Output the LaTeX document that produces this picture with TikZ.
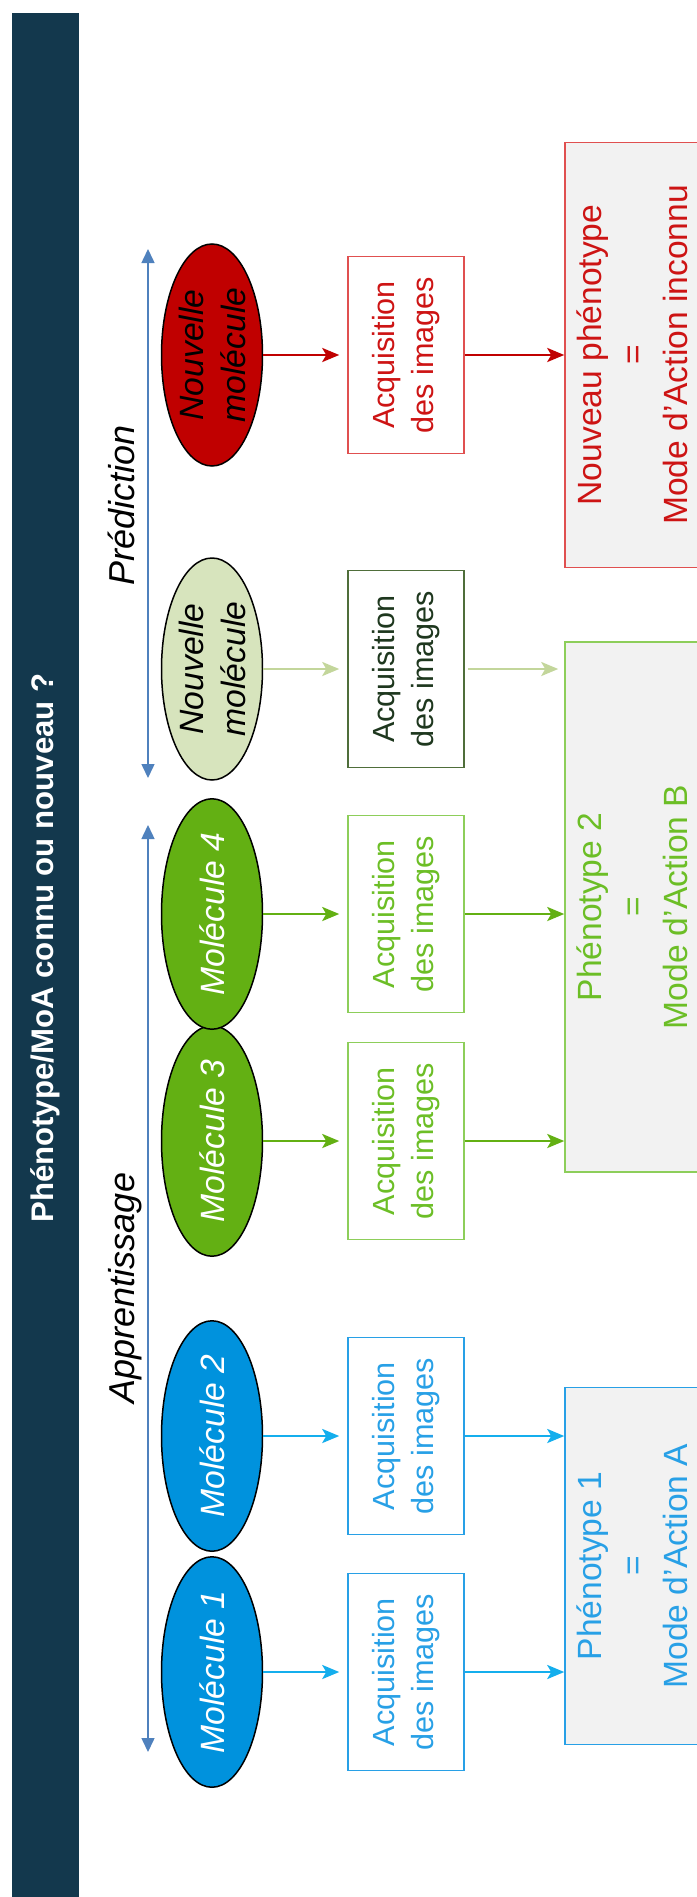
\documentclass[tikz,border=0pt]{standalone}
\usepackage{fontspec}
\setmainfont{Liberation Sans}
\usepackage{tikz}
\usetikzlibrary{arrows.meta,shapes.geometric}
\definecolor{titlebg}{RGB}{19,56,77}
\definecolor{axisblue}{RGB}{79,129,189}
\definecolor{molblue}{RGB}{0,146,221}
\definecolor{lineblue}{RGB}{20,174,237}
\definecolor{boxblue}{RGB}{40,160,230}
\definecolor{molgreen}{RGB}{99,176,19}
\definecolor{boxgreen}{RGB}{141,206,90}
\definecolor{txtgreen}{RGB}{108,190,38}
\definecolor{newfill}{RGB}{215,228,189}
\definecolor{newline}{RGB}{195,214,155}
\definecolor{newbox}{RGB}{79,110,58}
\definecolor{newtext}{RGB}{30,55,30}
\definecolor{molred}{RGB}{192,0,0}
\definecolor{boxred}{RGB}{224,80,80}
\definecolor{txtred}{RGB}{205,20,20}
\definecolor{resfill}{RGB}{242,242,242}
\tikzset{
  molnode/.style = {ellipse, rotate=90, draw=black, line width=1.5pt, inner sep=0pt,
    minimum width=222pt, minimum height=101pt, align=center,
    font=\fontsize{33.7}{42}\selectfont\itshape},
  mol_b/.style = {molnode, fill=molblue, text=white},% molecule connue, bleu
  mol_v/.style = {molnode, fill=molgreen, text=white},% molecule connue, vert
  mol_c/.style = {molnode, fill=newfill, text=black},% nouvelle molecule, vert clair
  mol_r/.style = {molnode, fill=molred, text=black},% nouvelle molecule, rouge
  acqnode/.style = {rectangle, rotate=90, line width=1.5pt, inner sep=0pt,
    minimum width=197pt, minimum height=116pt, align=center,
    font=\fontsize{30.6}{39}\selectfont},
  acq_b/.style = {acqnode, draw=boxblue, text=boxblue},
  acq_v/.style = {acqnode, draw=boxgreen, text=txtgreen},
  acq_c/.style = {acqnode, draw=newbox, text=newtext},
  acq_r/.style = {acqnode, draw=boxred, text=txtred},
  resnode/.style = {rectangle, rotate=90, fill=resfill, line width=1.5pt, inner sep=0pt,
    minimum height=134pt, align=center, font=\fontsize{33.6}{43}\selectfont},
  res_b/.style = {resnode, draw=boxblue, text=boxblue},
  res_v/.style = {resnode, draw=boxgreen, text=txtgreen},
  res_r/.style = {resnode, draw=boxred, text=txtred},
  fl/.style = {->, line width=2.7pt},
  fl_b/.style = {fl, lineblue},
  fl_v/.style = {fl, molgreen},
  fl_c/.style = {fl, newline},
  fl_r/.style = {fl, molred},
  axe/.style = {axisblue, line width=1.5pt,
    {Triangle[length=14pt,width=13pt]}-{Triangle[length=14pt,width=13pt]}},
  etiq/.style = {rotate=90, anchor=base, inner sep=0pt,
    font=\fontsize{36}{40}\selectfont\itshape},
  titre/.style = {rotate=90, text=white, inner sep=0pt,
    font=\fontsize{31.2}{37}\selectfont\bfseries}
}

\begin{document}
\begin{tikzpicture}[x=1pt,y=1pt,>={Stealth[length=17pt,width=14pt,inset=4pt]}]
    \useasboundingbox (0,0) rectangle (696,-1897);
    \fill[titlebg] (12,-13) rectangle (79,-1897);
    \node[titre] (titre) at (45.5,-948) {Phénotype/MoA connu ou nouveau ?};

    % axes apprentissage / prediction
    \coordinate (ap_h) at (148,-825);
    \coordinate (ap_b) at (148,-1752);
    \coordinate (pr_h) at (148,-249);
    \coordinate (pr_b) at (148,-778);
    \draw[axe] (ap_h) -- (ap_b);
    \draw[axe] (pr_h) -- (pr_b);
    \node[etiq] (appr) at (134,-1288) {Apprentissage};
    \node[etiq] (pred) at (134,-505) {Prédiction};

    % molecules
    \node[mol_b] (m1) at (212,-1672) {Molécule 1};
    \node[mol_b] (m2) at (212,-1436) {Molécule 2};
    \node[mol_v] (m3) at (212,-1141) {Molécule 3};
    \node[mol_v] (m4) at (212,-914) {Molécule 4};
    \node[mol_c] (m5) at (212,-669) {Nouvelle\\molécule};
    \node[mol_r] (m6) at (212,-355) {Nouvelle\\molécule};

    % acquisition
    \node[acq_b] (a1) at (406,-1672) {Acquisition\\des images};
    \node[acq_b] (a2) at (406,-1436) {Acquisition\\des images};
    \node[acq_v] (a3) at (406,-1141) {Acquisition\\des images};
    \node[acq_v] (a4) at (406,-914) {Acquisition\\des images};
    \node[acq_c] (a5) at (406,-669) {Acquisition\\des images};
    \node[acq_r] (a6) at (406,-355) {Acquisition\\des images};

    % phenotypes
    \node[res_b, minimum width=357pt] (p1) at (632,-1566) {Phénotype 1\\=\\Mode d’Action A};
    \node[res_v, minimum width=530pt] (p2) at (632,-907) {Phénotype 2\\=\\Mode d’Action B};
    \node[res_r, minimum width=425pt] (p3) at (632,-355) {Nouveau phénotype\\=\\Mode d’Action inconnu};

    \draw[fl_b, shorten >=8pt] (m1) -- (a1);
    \draw[fl_b, shorten >=8pt] (m2) -- (a2);
    \draw[fl_v, shorten >=8pt] (m3) -- (a3);
    \draw[fl_v, shorten >=8pt] (m4) -- (a4);
    \draw[fl_c, shorten >=8pt] (m5) -- (a5);
    \draw[fl_r, shorten >=8pt] (m6) -- (a6);
    \draw[fl_b] (a1.south) -- (a1.south -| p1.north);
    \draw[fl_b] (a2.south) -- (a2.south -| p1.north);
    \draw[fl_v] (a3.south) -- (a3.south -| p2.north);
    \draw[fl_v] (a4.south) -- (a4.south -| p2.north);
    \draw[fl_c, shorten <=3pt, shorten >=6pt] (a5.south) -- (a5.south -| p2.north);
    \draw[fl_r] (a6.south) -- (a6.south -| p3.north);
\end{tikzpicture}
\end{document}
